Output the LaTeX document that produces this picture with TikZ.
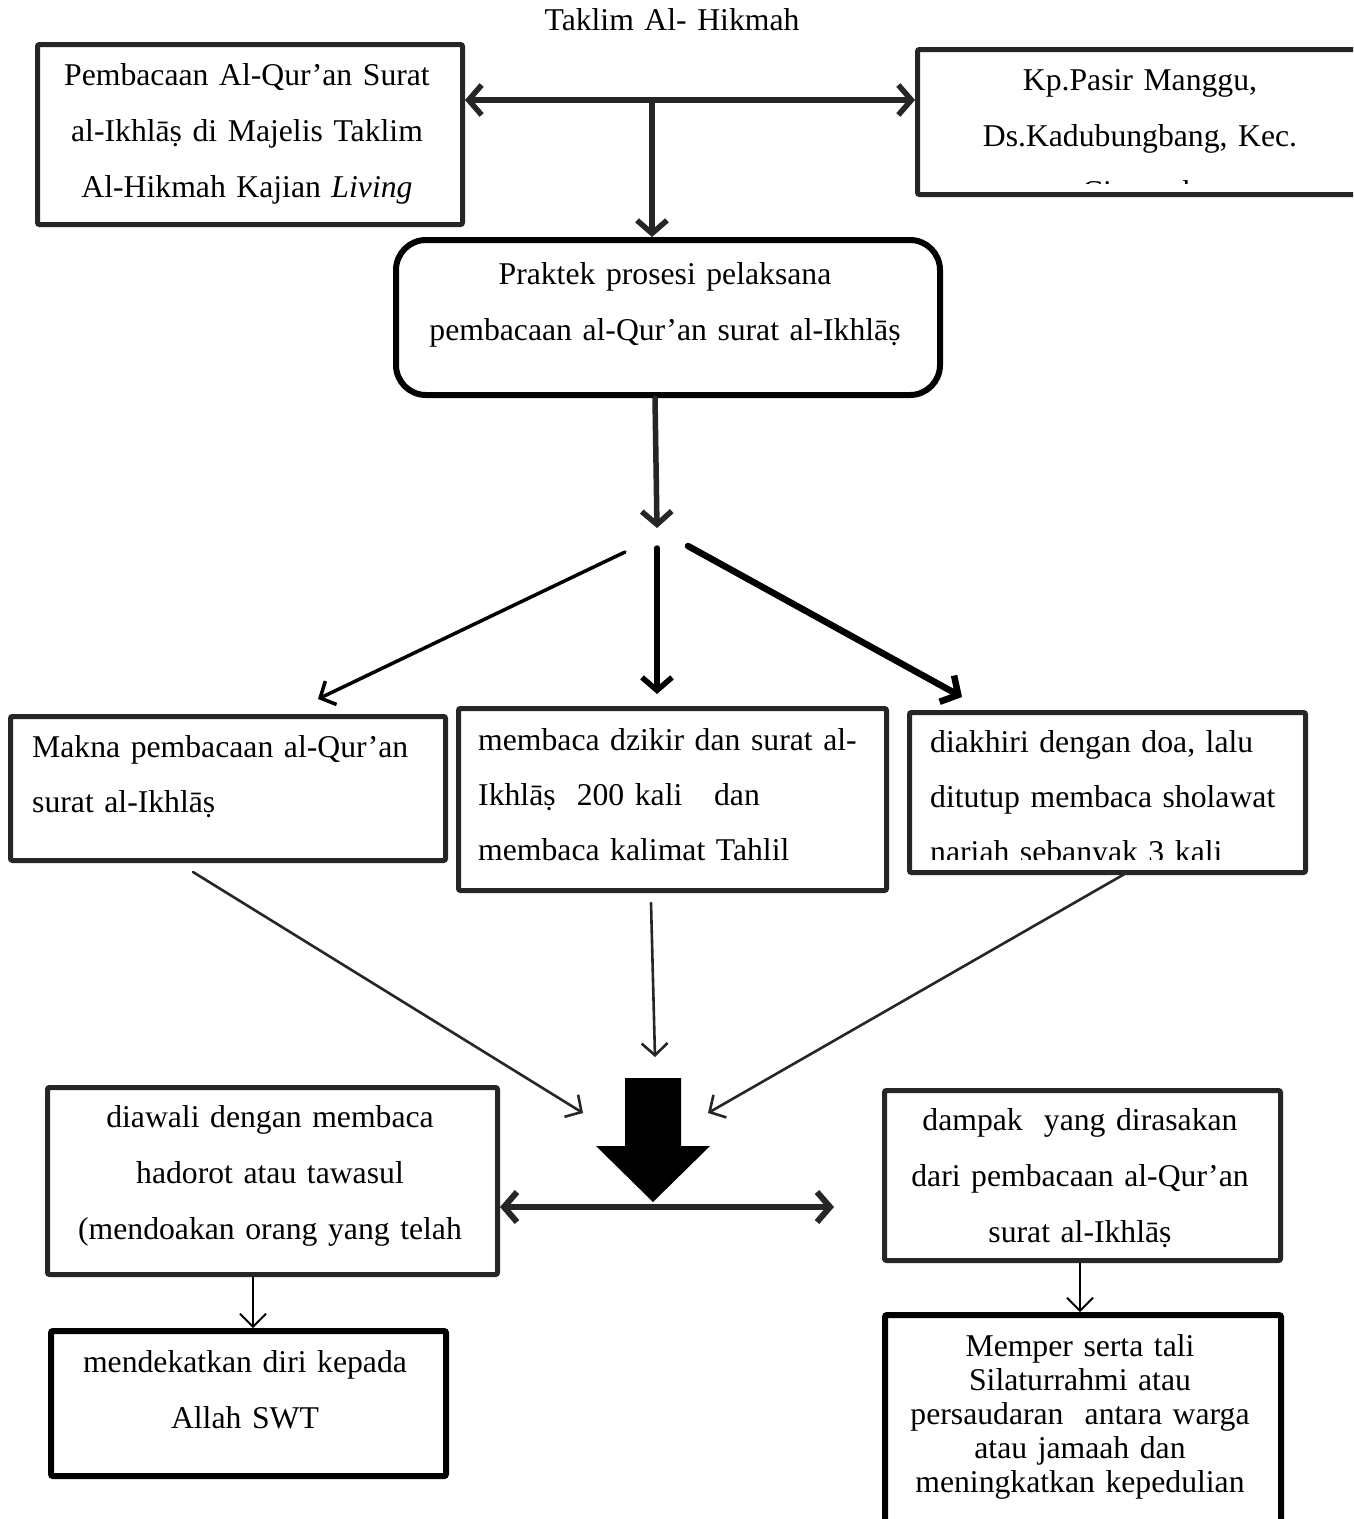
\documentclass[tikz,border=0pt]{standalone}
\usepackage{fontspec}
\setmainfont{Liberation Serif}
\usetikzlibrary{arrows.meta}
\definecolor{boxc}{HTML}{262626}
\begin{document}
\begin{tikzpicture}[x=1pt,y=-1pt,
  boxline/.style={draw=boxc, line width=5pt, rounded corners=2pt, inner sep=0pt, anchor=north west},
  blackbox/.style={boxline, draw=black, line width=6pt},
  txt/.style={inner sep=0pt, font=\fontsize{31.7}{56}\selectfont, text width=#1, align=center, anchor=base},
  ltxt/.style={inner sep=0pt, font=\fontsize{31.7}{55}\selectfont, text width=#1, align=left, anchor=base west},
  bigarr/.style={draw=boxc, line width=5.5pt, line cap=round, -{Straight Barb[length=13pt,width=30pt]}},
  bigdbl/.style={draw=boxc, line width=5.5pt, line cap=round, {Straight Barb[length=13pt,width=30pt]}-{Straight Barb[length=13pt,width=30pt]}},
  midarr/.style={draw=black, line width=3.5pt, line cap=round, -{Straight Barb[length=12pt,width=26pt]}},
  thinarr/.style={draw=boxc, line width=2.6pt, line cap=round, -{Straight Barb[length=12pt,width=26pt]}},
  smallarr/.style={draw=black, line width=1.8pt, -{Straight Barb[length=13pt,width=26pt]}}
]
\clip (0,0) rectangle (1353,1519);
\fill[white] (0,0) rectangle (1353,1519);

% title
\node[txt=600] (title) at (672,30) {Taklim Al- Hikmah};

% top boxes
\node[boxline, minimum width=425, minimum height=180] (b1) at (35,42) {};
\node[txt=430] (t1) at (247,85) {Pembacaan Al-Qur’an Surat\\al-Ikhlāṣ di Majelis Taklim\\Al-Hikmah Kajian \textit{Living}};

\node[boxline, minimum width=460, minimum height=145] (b2) at (915,47) {};
\begin{scope}
  \clip (915,47) rectangle (1353,183);
  \node[txt=440] (t2) at (1140,90) {Kp.Pasir Manggu,\\Ds.Kadubungbang, Kec.\\Cimanuk};
\end{scope}

% rounded box
\node[draw=black, line width=6pt, rounded corners=30pt, inner sep=0pt, anchor=north west,
      minimum width=544, minimum height=155] (rb) at (393,237) {};
\node[txt=540] (t3) at (665,284) {Praktek prosesi pelaksana\\pembacaan al-Qur’an surat al-Ikhlāṣ};

% top connectors
\coordinate (hy) at (652,100);
\draw[bigdbl] (b1.east |- hy) -- (b2.west |- hy);
\draw[bigarr] (hy) -- (rb.north -| hy);
\coordinate (s0) at (657,528);
\draw[bigarr] (rb.south -| 655,0) -- (s0);

% split arrows
\coordinate (sl) at (625,552);
\coordinate (sm) at (657,548);
\coordinate (sr) at (688,546);
\coordinate (el) at (318,699);
\coordinate (em) at (657,694);
\coordinate (er) at (962,697);
\draw[midarr] (sl) -- (el);
\draw[bigarr, draw=black] (sm) -- (em);
\draw[bigarr, draw=black, line width=6.5pt] (sr) -- (er);

% row 2 boxes
\node[boxline, minimum width=435, minimum height=144] (bl) at (8,714) {};
\node[ltxt=420] (t4) at (32,757) {Makna pembacaan al-Qur’an\\surat al-Ikhlāṣ};

\node[boxline, minimum width=428, minimum height=182] (bm) at (456,706) {};
\node[ltxt=420] (t5) at (478,750) {membaca dzikir dan surat al-\\Ikhlāṣ\ \ 200 kali\ \ \ dan\\membaca kalimat Tahlil};

\node[boxline, minimum width=396, minimum height=160] (br) at (907,710) {};
\begin{scope}
  \clip (907,710) rectangle (1303,859);
  \node[ltxt=390] (t6) at (930,752) {diakhiri dengan doa, lalu\\ditutup membaca sholawat\\nariah sebanyak 3 kali};
\end{scope}

% converging arrows
\coordinate (cl0) at (193,872);
\coordinate (cl1) at (583,1113);
\coordinate (cm0) at (651,903);
\coordinate (cm1) at (655,1057);
\coordinate (cr0) at (1128,872);
\coordinate (cr1) at (708,1113);
\draw[thinarr] (cl0) -- (cl1);
\draw[thinarr] (cm0) -- (cm1);
\draw[thinarr] (cr0) -- (cr1);

% big block arrow
\fill[black] (625,1078) -- (681,1078) -- (681,1146) -- (710,1146) -- (653,1202) -- (596,1146) -- (625,1146) -- cycle;
\coordinate (bigtip) at (653,1202);

% bottom boxes
\node[boxline, minimum width=450, minimum height=187] (bbl) at (45,1085) {};
\node[txt=450] (t7) at (270,1127) {diawali dengan membaca\\hadorot atau tawasul\\(mendoakan orang yang telah};

\node[boxline, minimum width=396, minimum height=170] (bbr) at (882,1088) {};
\node[txt=396] (t8) at (1080,1130) {dampak\ \ yang dirasakan\\dari pembacaan al-Qur’an\\surat al-Ikhlāṣ};

\coordinate (hl) at (500,1207);
\coordinate (hr) at (834,1207);
\draw[bigdbl, line width=6pt] (hl) -- (hr);

\node[blackbox, minimum width=395, minimum height=145] (bbl2) at (48,1328) {};
\node[txt=395] (t9) at (245,1372) {mendekatkan diri kepada\\Allah SWT};

\node[blackbox, minimum width=396, minimum height=230] (bbr2) at (882,1312) {};
\node[inner sep=0pt, font=\fontsize{31.7}{34}\selectfont, text width=396, align=center, anchor=base] (t10) at (1080,1356)
  {Memper serta tali\\Silaturrahmi atau\\persaudaran\ \ antara warga\\atau jamaah dan\\meningkatkan kepedulian};

\draw[smallarr] (bbl.south -| 253,0) -- (bbl2.north -| 253,0);
\draw[smallarr] (bbr.south -| 1080,0) -- (bbr2.north -| 1080,0);
\end{tikzpicture}
\end{document}
